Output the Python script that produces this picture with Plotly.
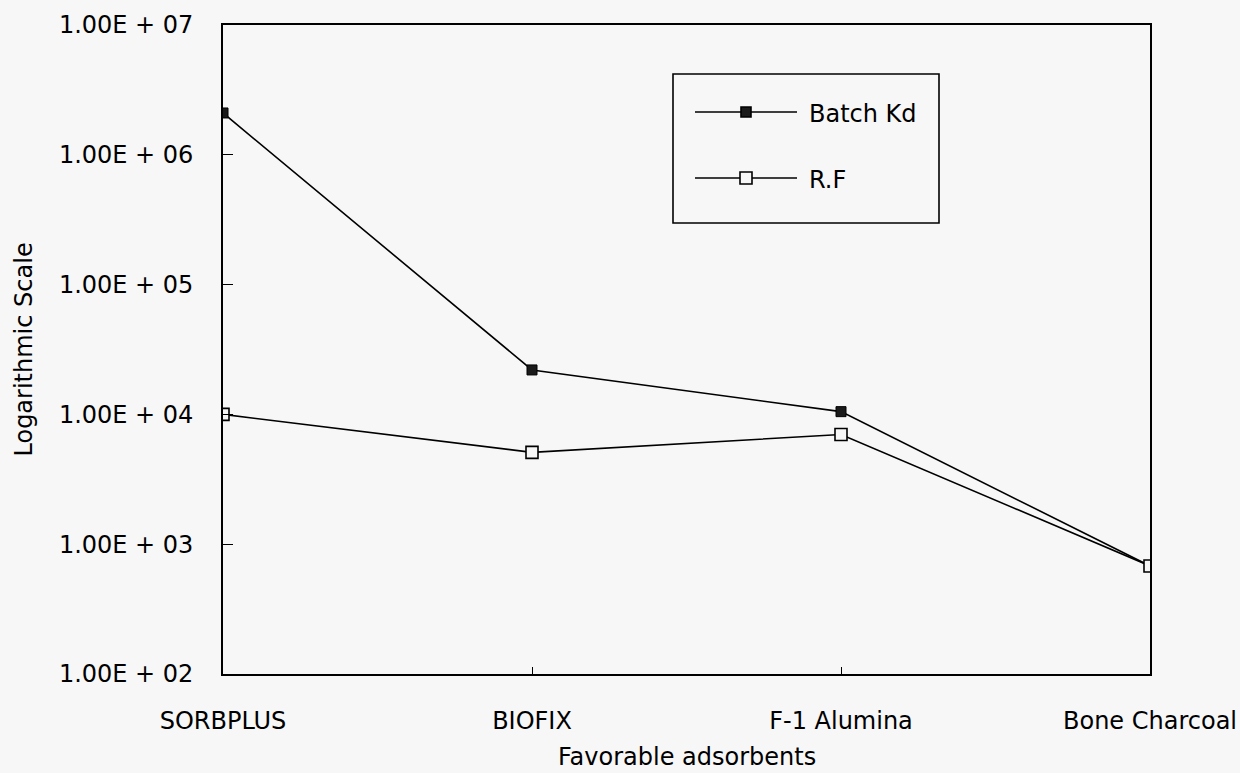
import plotly.graph_objects as go

# ---- data ----
categories = ["SORBPLUS", "BIOFIX", "F-1 Alumina", "Bone Charcoal"]
batch_kd = [2.1e6, 2.2e4, 1.05e4, 680]
rf = [1.0e4, 5.1e3, 7.0e3, 680]
y_tickvals = [1e2, 1e3, 1e4, 1e5, 1e6, 1e7]
y_ticktext = ["1.00E + 02", "1.00E + 03", "1.00E + 04", "1.00E + 05", "1.00E + 06", "1.00E + 07"]
series_names = ["Batch Kd", "R.F"]

# ---- layout geometry (pixels) ----
W, H = 1240, 773
L, R, T, B = 223, 1150, 25, 674
PW, PH = R - L, B - T


def px(x):
    return (x - L) / PW


def py(y):
    return (B - y) / PH


FONT = "DejaVu Sans"
BG = "#f7f7f7"

fig = go.Figure()
fig.add_trace(go.Scatter(
    x=categories, y=batch_kd, mode="lines+markers", name=series_names[0],
    line=dict(color="black", width=1.6),
    marker=dict(symbol="square", size=10, color="#1a1a1a", line=dict(color="black", width=1)),
    showlegend=False,
))
fig.add_trace(go.Scatter(
    x=categories, y=rf, mode="lines+markers", name=series_names[1],
    line=dict(color="black", width=1.6),
    marker=dict(symbol="square", size=12, color=BG, line=dict(color="black", width=1.6)),
    showlegend=False,
))

fig.update_layout(
    width=W, height=H,
    margin=dict(l=L, r=W - R, t=T, b=H - B, pad=0),
    paper_bgcolor=BG, plot_bgcolor=BG,
    font=dict(family=FONT, color="black", size=24),
    xaxis=dict(
        type="category", range=[0, len(categories) - 1],
        automargin=False,
        showline=True, mirror=True, linecolor="black", linewidth=1.6,
        ticks="inside", ticklen=7, tickwidth=1.4, tickcolor="black",
        showgrid=False, zeroline=False,
        tickfont=dict(size=24, family=FONT),
        ticklabelstandoff=24,
    ),
    yaxis=dict(
        type="log", range=[2, 7],
        automargin=False,
        tickvals=y_tickvals, ticktext=y_ticktext,
        showline=True, mirror=True, linecolor="black", linewidth=1.6,
        ticks="inside", ticklen=10, tickwidth=1.4, tickcolor="black",
        showgrid=False, zeroline=False,
        tickfont=dict(size=24, family=FONT),
        ticklabelstandoff=23,
    ),
    showlegend=False,
)

# axis titles
fig.add_annotation(text="Favorable adsorbents", xref="paper", yref="paper",
                   x=0.5, y=py(757), xanchor="center", yanchor="middle",
                   showarrow=False, font=dict(size=24, family=FONT))
fig.add_annotation(text="Logarithmic Scale", xref="paper", yref="paper",
                   x=px(23), y=0.5, xanchor="center", yanchor="middle", textangle=-90,
                   showarrow=False, font=dict(size=24, family=FONT))

# ---- manual legend ----
box = dict(x0=px(673), x1=px(939), y0=py(223), y1=py(74))
fig.add_shape(type="rect", xref="paper", yref="paper", **box,
              line=dict(color="black", width=1.6), fillcolor=BG, layer="above")
rows = [(112, "#1a1a1a", 5), (178, BG, 6)]
for (ry, fill, half), name in zip(rows, series_names):
    fig.add_shape(type="line", xref="paper", yref="paper",
                  x0=px(695), x1=px(797), y0=py(ry), y1=py(ry),
                  line=dict(color="black", width=1.6), layer="above")
    fig.add_shape(type="rect", xref="paper", yref="paper",
                  xsizemode="pixel", ysizemode="pixel",
                  xanchor=px(746), yanchor=py(ry),
                  x0=-half, x1=half, y0=-half, y1=half,
                  line=dict(color="black", width=1.6), fillcolor=fill, layer="above")
    fig.add_annotation(text=name, xref="paper", yref="paper",
                       x=px(807), y=py(ry + 2), xanchor="left", yanchor="middle",
                       showarrow=False, font=dict(size=24, family=FONT))

fig.write_html("out.html", config={"displayModeBar": False},
               post_script="document.body.style.margin='0';")
